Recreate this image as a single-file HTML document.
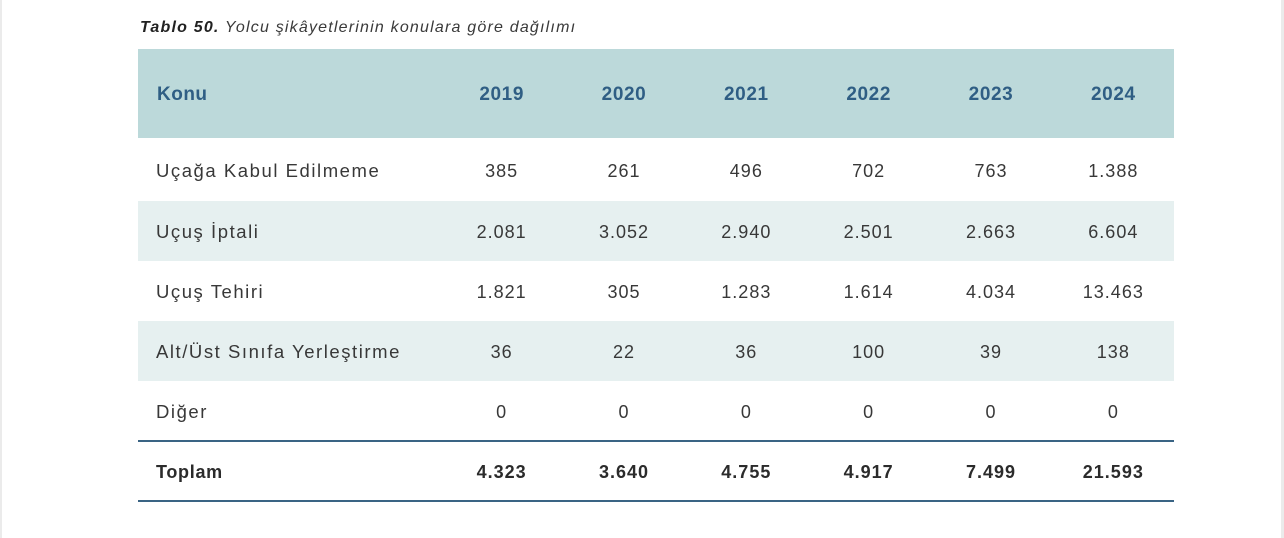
<!DOCTYPE html>
<html>
<head>
<meta charset="utf-8">
<style>
  html, body { margin:0; padding:0; }
  body { width:1284px; height:538px; position:relative; background:#fff; overflow:hidden;
         font-family:"Liberation Sans", Arial, sans-serif; }
  .edgeL { position:absolute; left:0; top:0; width:2px; height:538px; background:#ebebeb; }
  .edgeR { position:absolute; left:1281px; top:0; width:3px; height:538px; background:#ebebeb; }
  .cap { position:absolute; left:140px; top:17px; height:22px; line-height:22px; font-size:16px;
         font-style:italic; color:#3a3a3a; letter-spacing:1.2px; white-space:nowrap; }
  .cap b { color:#222; }
  .row { position:absolute; left:138px; width:1036px; }
  .hdr { top:49px; height:89px; background:#bcd9da; }
  .alt { background:#e6f0f0; }
  .cell { position:absolute; top:0; height:100%; display:flex; align-items:center; white-space:nowrap; }
  .lab { left:18px; font-size:18.5px; color:#383838; letter-spacing:1.55px; }
  .num { width:122.33px; justify-content:center; font-size:18px; color:#383838; letter-spacing:1px; padding-left:1px; box-sizing:border-box; }
  .hdr .cell { font-weight:bold; color:#2f5e84; font-size:19px; letter-spacing:0.6px; padding-top:3px; box-sizing:border-box; }
  .hdr .lab { letter-spacing:0.5px; left:19px; }
  .body .cell { padding-top:3px; box-sizing:border-box; }
  .body .lab { padding-top:2px; }
  .tot .cell { font-weight:bold; color:#2b2b2b; padding-top:2px; box-sizing:border-box; }
  .tot .lab { letter-spacing:0.7px; font-size:18px; left:18px; }
  .line { position:absolute; left:138px; width:1036px; height:2px; background:#3a6484; }
  .c1 { left:302px; } .c2 { left:424.33px; } .c3 { left:546.67px; }
  .c4 { left:669px; } .c5 { left:791.33px; } .c6 { left:913.67px; }
</style>
</head>
<body>
<div class="edgeL"></div>
<div class="edgeR"></div>

<div class="cap"><b>Tablo 50.</b> Yolcu şikâyetlerinin konulara göre dağılımı</div>

<div class="row hdr">
  <div class="cell lab">Konu</div>
  <div class="cell num c1">2019</div>
  <div class="cell num c2">2020</div>
  <div class="cell num c3">2021</div>
  <div class="cell num c4">2022</div>
  <div class="cell num c5">2023</div>
  <div class="cell num c6">2024</div>
</div>

<div class="row body" style="top:138px;height:63px;">
  <div class="cell lab">Uçağa Kabul Edilmeme</div>
  <div class="cell num c1">385</div>
  <div class="cell num c2">261</div>
  <div class="cell num c3">496</div>
  <div class="cell num c4">702</div>
  <div class="cell num c5">763</div>
  <div class="cell num c6">1.388</div>
</div>

<div class="row body alt" style="top:201px;height:60px;">
  <div class="cell lab">Uçuş İptali</div>
  <div class="cell num c1">2.081</div>
  <div class="cell num c2">3.052</div>
  <div class="cell num c3">2.940</div>
  <div class="cell num c4">2.501</div>
  <div class="cell num c5">2.663</div>
  <div class="cell num c6">6.604</div>
</div>

<div class="row body" style="top:261px;height:60px;">
  <div class="cell lab">Uçuş Tehiri</div>
  <div class="cell num c1">1.821</div>
  <div class="cell num c2">305</div>
  <div class="cell num c3">1.283</div>
  <div class="cell num c4">1.614</div>
  <div class="cell num c5">4.034</div>
  <div class="cell num c6">13.463</div>
</div>

<div class="row body alt" style="top:321px;height:60px;">
  <div class="cell lab">Alt/Üst Sınıfa Yerleştirme</div>
  <div class="cell num c1">36</div>
  <div class="cell num c2">22</div>
  <div class="cell num c3">36</div>
  <div class="cell num c4">100</div>
  <div class="cell num c5">39</div>
  <div class="cell num c6">138</div>
</div>

<div class="row body" style="top:381px;height:60px;">
  <div class="cell lab">Diğer</div>
  <div class="cell num c1">0</div>
  <div class="cell num c2">0</div>
  <div class="cell num c3">0</div>
  <div class="cell num c4">0</div>
  <div class="cell num c5">0</div>
  <div class="cell num c6">0</div>
</div>

<div class="line" style="top:440px;"></div>

<div class="row tot" style="top:442px;height:58px;">
  <div class="cell lab">Toplam</div>
  <div class="cell num c1">4.323</div>
  <div class="cell num c2">3.640</div>
  <div class="cell num c3">4.755</div>
  <div class="cell num c4">4.917</div>
  <div class="cell num c5">7.499</div>
  <div class="cell num c6">21.593</div>
</div>

<div class="line" style="top:500px;"></div>
</body>
</html>
